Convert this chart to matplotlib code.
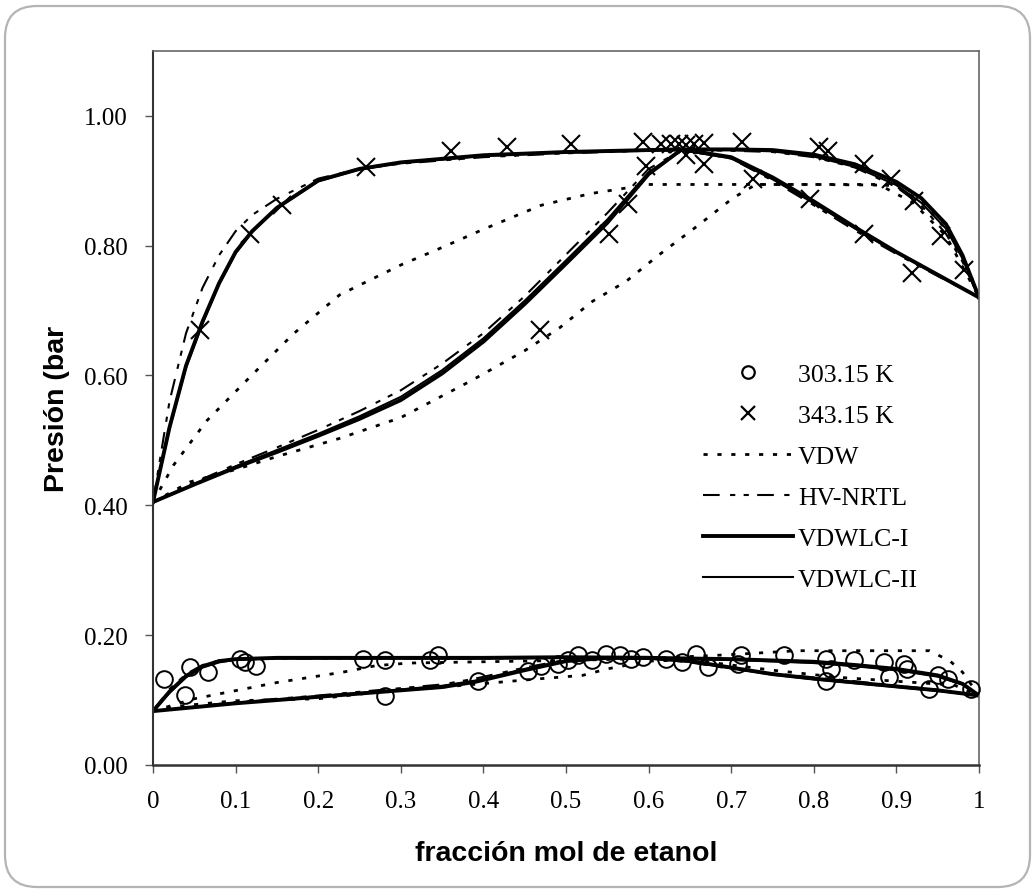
import matplotlib
matplotlib.use("Agg")
import matplotlib.pyplot as plt
from matplotlib.lines import Line2D
from matplotlib.patches import FancyBboxPatch

# ---------------- data ----------------
# 343.15 K experimental (x or y, P)
exp343_x = [0.057, 0.118, 0.156, 0.258, 0.361, 0.428, 0.506, 0.468,
            0.552, 0.575, 0.597, 0.593, 0.615, 0.627, 0.637, 0.645, 0.655,
            0.645, 0.667, 0.667, 0.713, 0.726, 0.796, 0.806, 0.817, 0.861,
            0.861, 0.893, 0.921, 0.919, 0.954, 0.982]
exp343_p = [0.670, 0.817, 0.863, 0.921, 0.945, 0.951, 0.956, 0.670,
            0.817, 0.864, 0.923, 0.960, 0.957, 0.957, 0.957, 0.955, 0.957,
            0.940, 0.925, 0.958, 0.960, 0.902, 0.871, 0.951, 0.945, 0.817,
            0.925, 0.902, 0.868, 0.758, 0.814, 0.763]

# 303.15 K experimental
exp303_x = [0.013, 0.039, 0.045, 0.067, 0.105, 0.111, 0.125, 0.254, 0.281,
            0.281, 0.335, 0.345, 0.393, 0.454, 0.470, 0.490, 0.502, 0.514,
            0.532, 0.549, 0.565, 0.579, 0.593, 0.621, 0.641, 0.657, 0.672,
            0.708, 0.712, 0.764, 0.815, 0.821, 0.815, 0.849, 0.885, 0.891,
            0.909, 0.913, 0.940, 0.950, 0.962, 0.990]
exp303_p = [0.133, 0.108, 0.151, 0.143, 0.164, 0.158, 0.153, 0.164, 0.161,
            0.107, 0.161, 0.169, 0.130, 0.145, 0.153, 0.156, 0.161, 0.169,
            0.161, 0.171, 0.169, 0.164, 0.166, 0.164, 0.158, 0.171, 0.151,
            0.156, 0.169, 0.169, 0.164, 0.148, 0.130, 0.161, 0.158, 0.135,
            0.156, 0.148, 0.117, 0.138, 0.133, 0.117]

# 343.15 K model curves
x343_bub = [0, 0.02, 0.04, 0.06, 0.08, 0.10, 0.12, 0.15, 0.20, 0.25, 0.30,
            0.40, 0.50, 0.60, 0.64, 0.70, 0.75, 0.80, 0.85, 0.90, 0.93,
            0.96, 0.98, 1.0]
vdwlc1_343_bub = [0.405, 0.520, 0.615, 0.683, 0.742, 0.790, 0.822, 0.858,
                  0.900, 0.918, 0.928, 0.939, 0.944, 0.947, 0.948, 0.948,
                  0.947, 0.940, 0.925, 0.898, 0.873, 0.833, 0.785, 0.720]
vdwlc2_343_bub = [0.405, 0.518, 0.612, 0.680, 0.740, 0.788, 0.821, 0.857,
                  0.899, 0.917, 0.927, 0.938, 0.943, 0.946, 0.947, 0.947,
                  0.945, 0.937, 0.921, 0.893, 0.866, 0.826, 0.780, 0.720]
hvnrtl_343_bub = [0.405, 0.560, 0.665, 0.735, 0.785, 0.822, 0.847, 0.872,
                  0.903, 0.918, 0.926, 0.936, 0.942, 0.946, 0.947, 0.946,
                  0.944, 0.936, 0.920, 0.890, 0.862, 0.818, 0.775, 0.720]

x343_dew = [0, 0.05, 0.10, 0.15, 0.20, 0.25, 0.30, 0.35, 0.40, 0.45, 0.50,
            0.55, 0.60, 0.64, 0.70, 0.75, 0.80, 0.85, 0.90, 0.95, 1.0]
vdwlc1_343_dew = [0.405, 0.432, 0.458, 0.482, 0.507, 0.533, 0.562, 0.603,
                  0.652, 0.710, 0.772, 0.835, 0.910, 0.948, 0.936, 0.905,
                  0.868, 0.828, 0.790, 0.755, 0.720]
vdwlc2_343_dew = [0.405, 0.433, 0.460, 0.485, 0.510, 0.537, 0.567, 0.608,
                  0.657, 0.715, 0.777, 0.840, 0.913, 0.947, 0.934, 0.902,
                  0.865, 0.826, 0.789, 0.754, 0.720]
hvnrtl_343_dew = [0.405, 0.435, 0.463, 0.489, 0.516, 0.545, 0.577, 0.618,
                  0.665, 0.722, 0.786, 0.850, 0.918, 0.947, 0.934, 0.900,
                  0.862, 0.823, 0.787, 0.753, 0.720]

x_vdw343_bub = [0, 0.025, 0.065, 0.117, 0.17, 0.226, 0.30, 0.35, 0.40, 0.47,
                0.53, 0.60, 0.70, 0.80, 0.88, 0.90, 0.93, 0.96, 0.98, 1.0]
vdw_343_bub = [0.405, 0.462, 0.530, 0.597, 0.664, 0.724, 0.770, 0.797,
               0.825, 0.862, 0.880, 0.894, 0.894, 0.894, 0.894, 0.891,
               0.868, 0.825, 0.780, 0.720]
x_vdw343_dew = [0, 0.045, 0.10, 0.15, 0.226, 0.30, 0.387, 0.45, 0.492,
                0.532, 0.573, 0.613, 0.661, 0.702, 0.73, 0.80, 0.88, 0.92,
                0.96, 1.0]
vdw_343_dew = [0.405, 0.436, 0.455, 0.475, 0.503, 0.535, 0.593, 0.638,
               0.673, 0.714, 0.745, 0.786, 0.832, 0.873, 0.894, 0.894,
               0.893, 0.866, 0.815, 0.720]

# 303.15 K model curves
x303_bub = [0, 0.02, 0.04, 0.06, 0.08, 0.10, 0.15, 0.20, 0.30, 0.40, 0.50,
            0.60, 0.70, 0.80, 0.85, 0.90, 0.95, 0.98, 1.0]
vdwlc1_303_bub = [0.083, 0.113, 0.137, 0.152, 0.160, 0.163, 0.165, 0.165,
                  0.165, 0.165, 0.166, 0.165, 0.163, 0.159, 0.154, 0.148,
                  0.138, 0.125, 0.107]
vdwlc2_303_bub = [0.083, 0.111, 0.135, 0.150, 0.158, 0.162, 0.164, 0.164,
                  0.164, 0.164, 0.165, 0.164, 0.162, 0.157, 0.152, 0.146,
                  0.136, 0.124, 0.107]
hvnrtl_303_bub = [0.083, 0.117, 0.140, 0.154, 0.161, 0.163, 0.164, 0.164,
                  0.164, 0.164, 0.165, 0.165, 0.163, 0.158, 0.153, 0.147,
                  0.137, 0.124, 0.107]

x303_dew = [0, 0.10, 0.20, 0.27, 0.35, 0.39, 0.45, 0.50, 0.55, 0.60, 0.65,
            0.70, 0.75, 0.80, 0.85, 0.90, 0.95, 1.0]
vdwlc1_303_dew = [0.083, 0.095, 0.105, 0.112, 0.120, 0.128, 0.146, 0.160,
                  0.165, 0.165, 0.160, 0.150, 0.140, 0.133, 0.127, 0.121,
                  0.115, 0.107]
vdwlc2_303_dew = [0.083, 0.096, 0.106, 0.113, 0.122, 0.130, 0.148, 0.161,
                  0.165, 0.164, 0.159, 0.149, 0.139, 0.132, 0.126, 0.120,
                  0.114, 0.107]
hvnrtl_303_dew = [0.083, 0.097, 0.107, 0.115, 0.124, 0.133, 0.150, 0.162,
                  0.165, 0.164, 0.158, 0.148, 0.141, 0.135, 0.129, 0.122,
                  0.116, 0.107]

x_vdw303_bub = [0, 0.05, 0.15, 0.23, 0.27, 0.31, 0.40, 0.50, 0.60, 0.70,
                0.78, 0.85, 0.94, 0.965, 0.98, 1.0]
vdw_303_bub = [0.083, 0.102, 0.127, 0.143, 0.153, 0.157, 0.159, 0.161,
               0.164, 0.170, 0.176, 0.176, 0.176, 0.160, 0.143, 0.107]
x_vdw303_dew = [0, 0.025, 0.10, 0.20, 0.27, 0.35, 0.47, 0.52, 0.55, 0.60,
                0.65, 0.75, 0.83, 0.90, 0.97, 1.0]
vdw_303_dew = [0.083, 0.090, 0.099, 0.102, 0.112, 0.120, 0.133, 0.138,
               0.148, 0.160, 0.162, 0.146, 0.135, 0.129, 0.123, 0.107]

legend_labels = ["303.15 K", "343.15 K", "VDW", "HV-NRTL", "VDWLC-I", "VDWLC-II"]
x_ticks = [0, 0.1, 0.2, 0.3, 0.4, 0.5, 0.6, 0.7, 0.8, 0.9, 1.0]
x_tick_labels = ["0", "0.1", "0.2", "0.3", "0.4", "0.5", "0.6", "0.7", "0.8", "0.9", "1"]
y_ticks = [0.0, 0.2, 0.4, 0.6, 0.8, 1.0]
y_tick_labels = ["0.00", "0.20", "0.40", "0.60", "0.80", "1.00"]

# ---------------- styles ----------------
SERIF = ["Liberation Serif", "DejaVu Serif"]
SANS = ["Liberation Sans", "DejaVu Sans"]
sty_vdw = dict(color="black", lw=2.0, ls=(0, (1.5, 3.5)))
sty_hv = dict(color="black", lw=1.5, ls=(0, (8, 5, 2.5, 4, 2.5, 4)))
sty_l1 = dict(color="black", lw=2.8, ls="-")
sty_l2 = dict(color="black", lw=1.5, ls="-")

fig = plt.figure(figsize=(10.35, 8.95), dpi=100)

# rounded outer frame, drawn in pixel units
bg = fig.add_axes([0, 0, 1, 1], zorder=-1)
bg.set_xlim(0, 1035)
bg.set_ylim(895, 0)
bg.axis("off")
bg.add_patch(FancyBboxPatch((5, 7), 1025, 881,
                            boxstyle="round,pad=0,rounding_size=32",
                            fc="white", ec="#b4b4b4", lw=1.6))

ax = fig.add_axes([153 / 1035, 1 - 766 / 895, 826 / 1035, (766 - 51.7) / 895])
ax.set_facecolor("none")

# model curves
for xs, ys, s in [
    (x_vdw343_bub, vdw_343_bub, sty_vdw), (x_vdw343_dew, vdw_343_dew, sty_vdw),
    (x_vdw303_bub, vdw_303_bub, sty_vdw), (x_vdw303_dew, vdw_303_dew, sty_vdw),
    (x343_bub, hvnrtl_343_bub, sty_hv), (x343_dew, hvnrtl_343_dew, sty_hv),
    (x303_bub, hvnrtl_303_bub, sty_hv), (x303_dew, hvnrtl_303_dew, sty_hv),
    (x343_bub, vdwlc2_343_bub, sty_l2), (x343_dew, vdwlc2_343_dew, sty_l2),
    (x303_bub, vdwlc2_303_bub, sty_l2), (x303_dew, vdwlc2_303_dew, sty_l2),
    (x343_bub, vdwlc1_343_bub, sty_l1), (x343_dew, vdwlc1_343_dew, sty_l1),
    (x303_bub, vdwlc1_303_bub, sty_l1), (x303_dew, vdwlc1_303_dew, sty_l1),
]:
    ax.plot(xs, ys, solid_joinstyle="round", **s)

# experimental points
ax.plot(exp303_x, exp303_p, ls="none", marker="o", ms=12, mfc="none",
        mec="black", mew=1.4, zorder=5, clip_on=False)
ax.plot(exp343_x, exp343_p, ls="none", marker="x", ms=13, mec="black",
        mew=1.5, zorder=5, clip_on=False)

ax.set_xlim(0, 1)
ax.set_ylim(0, 1.1)
ax.set_xticks(x_ticks)
ax.set_xticklabels(x_tick_labels, fontfamily=SERIF, fontsize=18)
ax.set_yticks(y_ticks)
ax.set_yticklabels(y_tick_labels, fontfamily=SERIF, fontsize=18)
ax.tick_params(direction="out", length=6, width=1, color="#555555")
ax.tick_params(axis="y", pad=12)
ax.tick_params(axis="x", pad=12)
for sp in ax.spines.values():
    sp.set_color("#666666")
    sp.set_linewidth(1.2)
ax.spines["bottom"].set_color("#333333")
ax.spines["bottom"].set_linewidth(1.8)
ax.spines["left"].set_color("#333333")
ax.spines["left"].set_linewidth(1.5)

ax.set_xlabel("fracción mol de etanol", fontfamily=SANS, fontweight="bold",
              fontsize=20.5, labelpad=20)
ax.set_ylabel("Presión (bar", fontfamily=SANS, fontweight="bold",
              fontsize=20.5, labelpad=10)

handles = [
    Line2D([], [], ls="none", marker="o", ms=9, mfc="none", mec="black", mew=1.6),
    Line2D([], [], ls="none", marker="x", ms=9.5, mec="black", mew=1.6),
    Line2D([], [], **sty_vdw),
    Line2D([], [], **sty_hv),
    Line2D([], [], **sty_l1),
    Line2D([], [], **sty_l2),
]
leg = ax.legend(handles, legend_labels, loc="upper left",
                bbox_to_anchor=((703 - 153) / 826, (766 - 364) / 714.3),
                frameon=False, prop=dict(family=SERIF, size=18.5),
                handlelength=3.5, handletextpad=0.2, labelspacing=0.70,
                borderaxespad=0, borderpad=0)

fig.savefig("out.png", dpi=100, facecolor="white")
